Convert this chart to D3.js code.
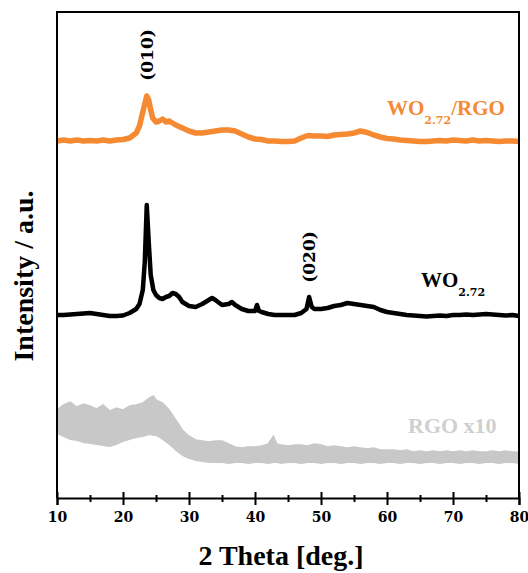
<!DOCTYPE html>
<html><head><meta charset="utf-8">
<script src="https://cdn.jsdelivr.net/npm/d3@7"></script>
<style>body{margin:0;background:#fff}svg{display:block}</style>
</head><body>
<svg id="chart" width="528" height="573"></svg>
<script>
// ---- data (intensity in arbitrary units, stacked with offsets as in the figure) ----
const xTicks = [10, 20, 30, 40, 50, 60, 70, 80];
const xMinorTicks = [15, 25, 35, 45, 55, 65, 75];

const orangeTheta = [10,11,12,13,14,15,16,17,18,19,20,21,22,22.5,23,23.3,23.6,23.9,24.2,24.5,25,25.5,26,26.5,27,27.5,28,29,30,31,32,33,34,35,36,37,38,39,40,41,42,43,44,45,46,47,48,49,50,51,52,53,54,55,56,57,58,59,60,61,62,63,64,65,66,67,68,69,70,71,72,73,74,75,76,77,78,79,80];
const orangeI     = [357,358,357,358,357,357.5,357,358,357,358,358.5,360,365,372,386,394,402,398,388,380,376,377,379,376,377,375,373,370,367,365,365,366,367,368,368,367,364,361,359,358.5,357,357,356.5,356.5,357,360,362.5,362,362,361.5,363,363.5,364,365,367,365.5,363,361,359.5,359,358,357.5,357,356.5,356.5,357,357.5,357,358,357.5,357,358,357,357.5,357,356.5,357,357,356.5];

const blackTheta = [10,11,12,13,14,15,16,17,18,19,20,21,22,22.5,23,23.3,23.6,23.9,24.2,24.6,25,25.5,26,26.5,27,27.5,28,28.5,29,30,31,32,33,33.5,34,35,36,36.5,37,38,39,40,40.3,40.6,41,42,43,44,45,46,47,47.8,48.2,48.6,49,50,51,52,53,54,55,56,57,58,59,60,61,62,63,64,65,66,67,68,69,70,71,72,73,74,75,76,77,78,79,80];
const blackI     = [183,183,183.5,184,184.5,185,184,183,182,182,182.5,185,189,194,208,236,293,256,223,208,203,200,199,201,202,205,204,201,196,192,191,194,198,200,198,193,194,196,193,189,187,187,193,187,186,184,183,183,183,183,185,189,201,191,189,189,190,192,193,195,194,193,192,191,188,186,185,184,183,182.5,182,181.5,182,182.5,182,183,183,183.5,183,183.5,184,183.5,183,182.5,183,182];

const rgoTheta = [10,11,12,13,14,15,16,17,18,19,20,21,22,23,24,24.6,25,26,27,28,29,30,31,32,33,34,35,36,37,38,39,40,41,42,42.8,43.3,44,45,46,47,48,49,50,51,52,53,54,55,56,57,58,59,60,61,62,63,64,65,66,67,68,69,70,71,72,73,74,75,76,77,78,79,80];
const rgoUpper = [88,93,96,91,94,92,89,93,87,90,88,92,93,95,100,102,98,95,88,78,68,62,58,57,56,57,57,54,51,50,51,51,52,54,62,54,53,52,53,53,52,54,53,51,52,51,50,51,50,49,50,48,48,48,47,48,46,47,46,47,46,47,46,47,46,47,46,46,47,46,47,46,46];
const rgoLower = [64,61,58,57,55,54,53,52,51,53,56,58,60,61,63,62,62,58,53,47,42,39,37,36,35,35,35,34,35,35,34,35,35,34,35,35,34,35,35,34,35,35,34,35,35,34,35,35,34,35,35,34,35,35,34,35,35,34,35,35,34,35,35,34,35,35,34,35,35,34,35,35,34];

const seriesLabels = {orange: "WO", black: "WO", rgo: "RGO x10"};

// ---- layout ----
const svg = d3.select("#chart");
const L = 57, R = 519, T = 12, B = 498;
const x = d3.scaleLinear().domain([10, 80]).range([L, R]);
const y = d3.scaleLinear().domain([0, 486]).range([B, T]);

const ORANGE = "#F58A33", GRAY = "#C8C8C8";

// RGO band
const rgoData = rgoTheta.map((t, i) => ({t, lo: rgoLower[i], hi: rgoUpper[i]}));
svg.append("path").datum(rgoData)
  .attr("fill", GRAY)
  .attr("d", d3.area().x(d => x(d.t)).y0(d => y(d.lo)).y1(d => y(d.hi)));
svg.append("path").datum(rgoData)
  .attr("fill", "none").attr("stroke", GRAY).attr("stroke-width", 1.5)
  .attr("d", d3.line().x(d => x(d.t)).y(d => y(d.hi)));

// line series
const line = d3.line().x(d => x(d[0])).y(d => y(d[1]));
svg.append("path").datum(orangeTheta.map((t, i) => [t, orangeI[i]]))
  .attr("fill", "none").attr("stroke", ORANGE).attr("stroke-width", 5.5)
  .attr("stroke-linejoin", "round").attr("d", line);
svg.append("path").datum(blackTheta.map((t, i) => [t, blackI[i]]))
  .attr("fill", "none").attr("stroke", "#000").attr("stroke-width", 4.5)
  .attr("stroke-linejoin", "round").attr("d", line);

// frame
svg.append("path").attr("fill", "none").attr("stroke", "#000").attr("stroke-width", 2)
  .attr("d", `M${L},${B}V${T}H${R}V${B}`);

// x axis
const ax = svg.append("g").attr("transform", `translate(0,${B})`)
  .call(d3.axisBottom(x).tickValues(xTicks).tickSize(7).tickFormat(d3.format("d")));
ax.select(".domain").attr("stroke-width", 2);
ax.selectAll(".tick line").attr("y1", -6).attr("y2", 7).attr("stroke-width", 2);
ax.selectAll(".tick text").attr("y", 24).attr("dy", 0)
  .attr("font-family", "DejaVu Serif").attr("font-weight", "bold").attr("font-size", 14).attr("fill", "#000");
const axm = svg.append("g").attr("transform", `translate(0,${B})`)
  .call(d3.axisBottom(x).tickValues(xMinorTicks).tickSize(4).tickFormat(""));
axm.select(".domain").remove();
axm.selectAll(".tick line").attr("y1", -3).attr("y2", 4).attr("stroke-width", 2);

// axis titles
svg.append("text").attr("x", 281).attr("y", 565).attr("text-anchor", "middle")
  .attr("font-family", "Liberation Serif").attr("font-weight", "bold").attr("font-size", 28)
  .text("2 Theta [deg.]");
svg.append("text").attr("transform", "translate(33,276) rotate(-90)").attr("text-anchor", "middle")
  .attr("font-family", "Liberation Serif").attr("font-weight", "bold").attr("font-size", 28)
  .text("Intensity / a.u.");

// peak labels
function peakLabel(t, cx, cy) {
  svg.append("text").attr("transform", `translate(${cx},${cy}) rotate(-90)`).attr("text-anchor", "middle")
    .attr("font-family", "DejaVu Serif").attr("font-weight", "bold").attr("font-size", 17)
    .text(t);
}
peakLabel("(010)", 153, 55);
peakLabel("(020)", 315, 257);

// series labels
function seriesLabel(x0, yb, color, main, sub, tail) {
  const t = svg.append("text").attr("x", x0).attr("y", yb).attr("fill", color)
    .attr("font-family", "Liberation Serif").attr("font-weight", "bold").attr("font-size", 21);
  t.append("tspan").text(main);
  if (sub) t.append("tspan").attr("dy", 9).attr("font-family", "DejaVu Serif").attr("font-size", 11).text(sub);
  if (tail) t.append("tspan").attr("dy", -9).text(tail);
}
seriesLabel(387, 115, ORANGE, seriesLabels.orange, "2.72", "/RGO");
seriesLabel(421, 287, "#000", seriesLabels.black, "2.72", null);
svg.append("text").attr("x", 408).attr("y", 433).attr("fill", "#CFCFCF")
  .attr("font-family", "Liberation Serif").attr("font-weight", "bold").attr("font-size", 22)
  .text(seriesLabels.rgo);
</script>
</body></html>
